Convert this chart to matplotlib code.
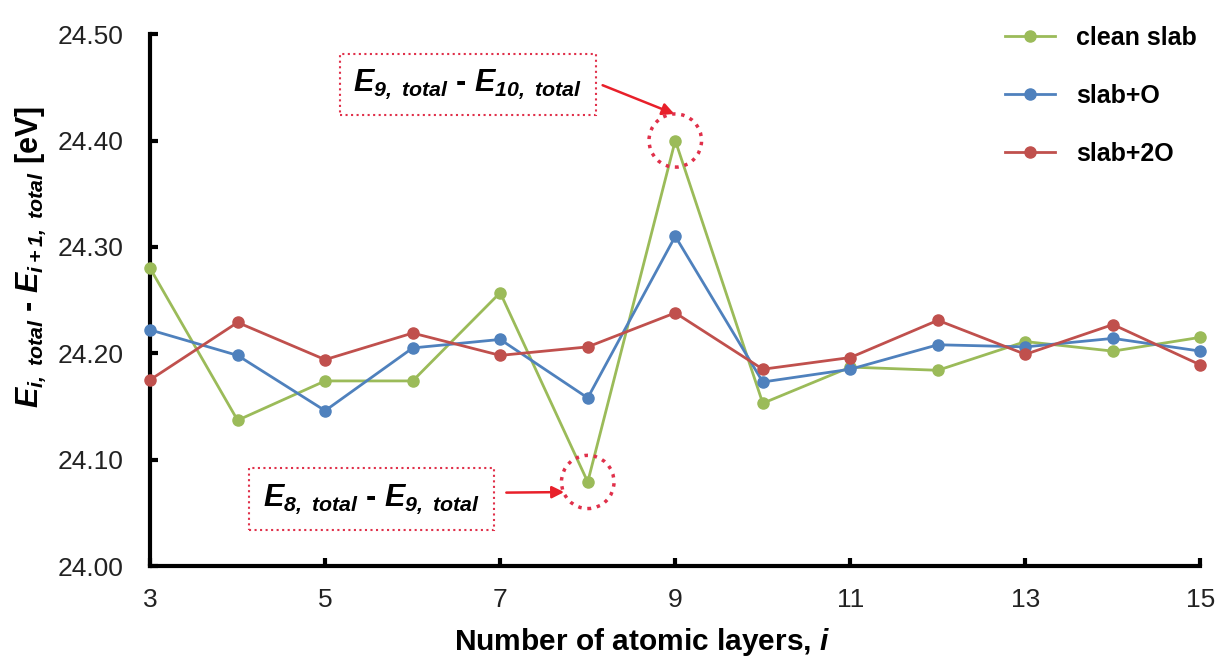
import matplotlib
matplotlib.use("Agg")
import matplotlib.pyplot as plt
from matplotlib.patches import Ellipse

# data
layers = [3, 4, 5, 6, 7, 8, 9, 10, 11, 12, 13, 14, 15]
clean_slab = [24.280, 24.137, 24.174, 24.174, 24.257, 24.079, 24.400, 24.153, 24.187, 24.184, 24.211, 24.202, 24.215]
slab_o = [24.222, 24.198, 24.146, 24.205, 24.213, 24.158, 24.310, 24.173, 24.185, 24.208, 24.206, 24.214, 24.202]
slab_2o = [24.175, 24.229, 24.194, 24.219, 24.198, 24.206, 24.238, 24.185, 24.196, 24.231, 24.199, 24.227, 24.189]
labels = ["clean slab", "slab+O", "slab+2O"]
colors = ["#9BBB59", "#4F81BD", "#C0504D"]
xticks = [3, 5, 7, 9, 11, 13, 15]
yticks = [24.0, 24.1, 24.2, 24.3, 24.4, 24.5]

plt.rcParams["font.family"] = ["Liberation Sans", "DejaVu Sans"]
plt.rcParams["mathtext.fontset"] = "custom"
plt.rcParams["mathtext.it"] = "Liberation Sans:italic:bold"
plt.rcParams["mathtext.rm"] = "Liberation Sans:italic:bold"
plt.rcParams["mathtext.bf"] = "Liberation Sans:bold"

fig = plt.figure(figsize=(12.2, 6.57), dpi=100)
ax = fig.add_axes([0.123, 0.1385, 0.861, 0.8095])

for ys, lab, c in zip([clean_slab, slab_o, slab_2o], labels, colors):
    ax.plot(layers, ys, color=c, lw=2, marker="o", ms=8, label=lab, clip_on=False, zorder=3)

ax.set_xlim(3, 15)
ax.set_ylim(24.0, 24.5)
ax.set_xticks(xticks)
ax.set_yticks(yticks)
ax.set_yticklabels([f"{v:.2f}" for v in yticks])
ax.spines["top"].set_visible(False)
ax.spines["right"].set_visible(False)
for s in ("left", "bottom"):
    ax.spines[s].set_linewidth(3)
ax.tick_params(direction="in", length=6, width=3, labelsize=19, labelcolor="#222222")
ax.tick_params(axis="y", pad=19)
ax.tick_params(axis="x", pad=16)

ax.set_xlabel("Number of atomic layers, $i$", fontsize=21.5, fontweight="bold")
ax.xaxis.set_label_coords(0.468, -0.113)
ax.set_ylabel("$E_{i,\\ total}$ - $E_{i+1,\\ total}$ [eV]", fontsize=22, fontweight="bold")
ax.yaxis.set_label_coords(-0.097, 0.58)

leg = ax.legend(loc="upper right", bbox_to_anchor=(1.018, 1.058), frameon=False, fontsize=18,
                labelspacing=1.36, handlelength=2.0, handletextpad=0.85)
for t in leg.get_texts():
    t.set_fontweight("bold")

box = dict(boxstyle="square,pad=0.45", fc="white", ec="#E0304A", ls=":", lw=1.5)
ax.text(6.63, 24.453, "$E_{9,\\ total}$ - $E_{10,\\ total}$", fontsize=22, fontweight="bold",
        ha="center", va="center", bbox=box, zorder=4)
ax.text(5.53, 24.063, "$E_{8,\\ total}$ - $E_{9,\\ total}$", fontsize=22, fontweight="bold",
        ha="center", va="center", bbox=box, zorder=4)

arrow = dict(arrowstyle="-|>", color="#E8202A", lw=1.8, mutation_scale=18, shrinkA=0, shrinkB=0)
ax.annotate("", xy=(8.99, 24.425), xytext=(8.17, 24.452), arrowprops=arrow, zorder=5)
ax.annotate("", xy=(7.73, 24.0695), xytext=(7.07, 24.069), arrowprops=arrow, zorder=5)

for cx, cy in [(9, 24.400), (8, 24.079)]:
    ax.add_patch(Ellipse((cx, cy), 0.6, 0.05, fill=False, ec="#E0304A", ls=":", lw=2.5, zorder=5))

fig.savefig("out.png", dpi=100, facecolor="white")
